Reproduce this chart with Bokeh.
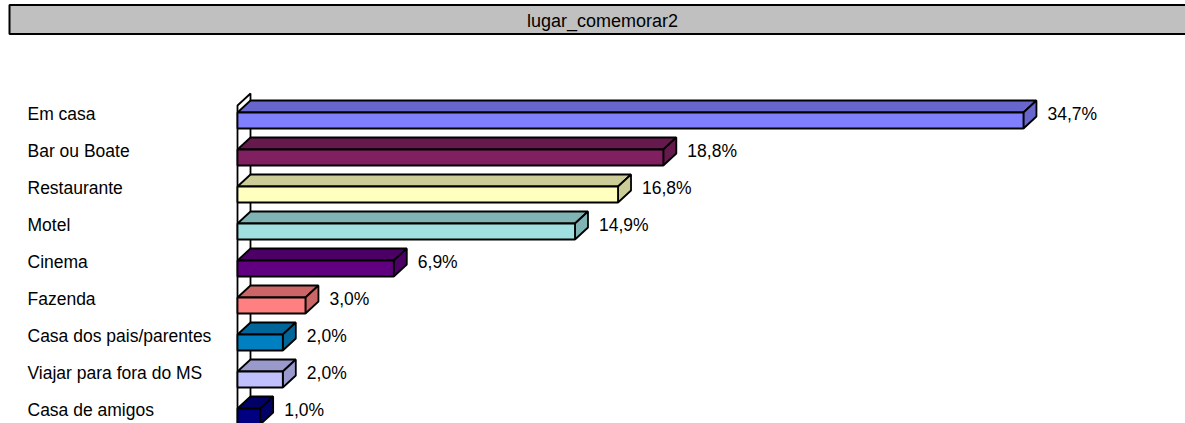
from bokeh.plotting import figure
from bokeh.models import Range1d
from bokeh.core.properties import value
from bokeh.embed import file_html
from bokeh.resources import INLINE

# ---- data ----
categories = ["Em casa", "Bar ou Boate", "Restaurante", "Motel", "Cinema",
              "Fazenda", "Casa dos pais/parentes", "Viajar para fora do MS",
              "Casa de amigos"]
percent = [34.7, 18.8, 16.8, 14.9, 6.9, 3.0, 2.0, 2.0, 1.0]
labels = ["34,7%", "18,8%", "16,8%", "14,9%", "6,9%", "3,0%", "2,0%", "2,0%", "1,0%"]
front_colors = ["#8080FF", "#802060", "#FFFFC0", "#A0E0E0", "#600080",
                "#FF8080", "#0080C0", "#C0C0FF", "#000080"]
header_text = "lugar_comemorar2"

# ---- layout constants (pixels) ----
W, H = 1185, 423
X0 = 237.0          # pixel of 0 %
PX_PER_PCT = 22.65
Y0 = 120.0          # pixel of first category centre
ROW = 37.0
DEPTH_X = 13.0
DEPTH_Y = 12.0
HALF = 8.0
LW = 1.8

def dx(px):
    return px / PX_PER_PCT

def dy(px):
    return px / ROW

p = figure(width=W, height=H, output_backend="svg", toolbar_location=None,
           x_range=Range1d(-X0 / PX_PER_PCT, (W - X0) / PX_PER_PCT),
           y_range=Range1d((H - Y0) / ROW, -Y0 / ROW),
           min_border=0, margin=(0, 0, 0, 0))
p.axis.visible = False
p.grid.visible = False
p.outline_line_color = None
p.background_fill_color = "white"
p.border_fill_color = "white"

def shade(hexcol, f=0.8):
    r = int(hexcol[1:3], 16); g = int(hexcol[3:5], 16); b = int(hexcol[5:7], 16)
    return "#%02x%02x%02x" % (int(r * f), int(g * f), int(b * f))

# header bar
p.quad(left=dx(9 - X0), right=dx(W + 20 - X0), top=dy(4.5 - Y0), bottom=dy(33.5 - Y0),
       fill_color="#C0C0C0", line_color="black", line_width=2)
p.text(x=[dx(602 - X0)], y=[dy(20.5 - Y0)], text=[header_text],
       text_font=value("Liberation Sans"), text_font_size="18px",
       text_align="center", text_baseline="middle", text_color="black")

# back wall (x = 0 plane)
n = len(categories)
wall_bottom = dy(H + 20 - Y0)
p.patch(x=[0, dx(DEPTH_X), dx(DEPTH_X), 0],
        y=[dy(105 - Y0), dy(105 - Y0) - dy(DEPTH_Y), wall_bottom, wall_bottom],
        fill_color="white", line_color="black", line_width=LW)

# 3-D bars
for i, (v, c) in enumerate(zip(percent, front_colors)):
    top = i - dy(HALF)
    bot = i + dy(HALF)
    ddx = dx(DEPTH_X)
    ddy = dy(DEPTH_Y)
    dark = shade(c)
    # top face
    p.patch(x=[0, v, v + ddx, ddx], y=[top, top, top - ddy, top - ddy],
            fill_color=dark, line_color="black", line_width=LW)
    # side face
    p.patch(x=[v, v + ddx, v + ddx, v], y=[top, top - ddy, bot - ddy, bot],
            fill_color=dark, line_color="black", line_width=LW)
    # front face
    p.quad(left=0, right=v, top=top, bottom=bot,
           fill_color=c, line_color="black", line_width=LW)

ys = [i - dy(7) for i in range(n)]
# value labels
p.text(x=[v + dx(DEPTH_X + 11) for v in percent], y=ys, text=labels,
       text_font=value("Liberation Sans"), text_font_size="17.5px",
       text_align="left", text_baseline="middle", text_color="black")
# category labels
p.text(x=[dx(27 - X0)] * n, y=ys, text=categories,
       text_font=value("Liberation Sans"), text_font_size="17.5px",
       text_align="left", text_baseline="middle", text_color="black")

open("out.html", "w").write(file_html(p, INLINE))
